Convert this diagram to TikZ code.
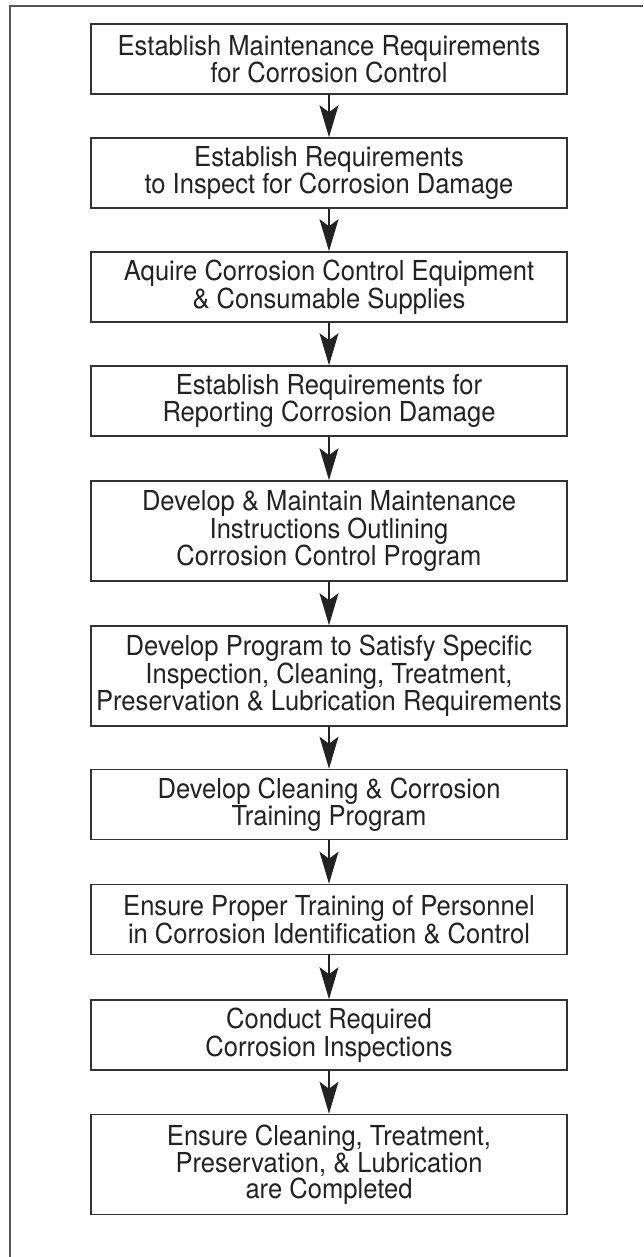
\documentclass[tikz,border=0pt]{standalone}
\usepackage{fontspec}
\setmainfont[FakeStretch=0.93]{TeX Gyre Heros}
\usetikzlibrary{arrows.meta}
\definecolor{ink}{HTML}{222222}
\definecolor{boxline}{HTML}{333333}
\definecolor{frameline}{HTML}{555555}
\begin{document}
\begin{tikzpicture}[x=1pt,y=-1pt,
  stepbox/.style={draw=boxline,line width=1.6pt,text=ink,align=center,
    minimum width=476pt,inner sep=0pt,
    font=\fontsize{27.5}{26}\selectfont},
  twoline/.style={stepbox,minimum height=70pt},
  threeline/.style={stepbox,minimum height=100pt},
  flow/.style={draw=ink,line width=1.1pt,
    -{Stealth[length=32pt,width=19pt,inset=7pt]}}]
\useasboundingbox (0,0) rectangle (643,1257);
% outer frame: top and left rules only
\draw[frameline,line width=2.2pt] (643,6) -- (10,6) -- (10,1257);
% process steps
\node[twoline]   (s1)  at (329,59)    {Establish Maintenance Requirements\\for Corrosion Control};
\node[twoline]   (s2)  at (329,173)   {Establish Requirements\\to Inspect for Corrosion Damage};
\node[twoline]   (s3)  at (329,287)   {Aquire Corrosion Control Equipment\\\& Consumable Supplies};
\node[twoline]   (s4)  at (329,401)   {Establish Requirements for\\Reporting Corrosion Damage};
\node[threeline] (s5)  at (329,531)   {Develop \& Maintain Maintenance\\Instructions Outlining\\Corrosion Control Program};
\node[threeline] (s6)  at (329,676)   {Develop Program to Satisfy Specific\\Inspection, Cleaning, Treatment,\\Preservation \& Lubrication Requirements};
\node[twoline]   (s7)  at (329,804.5) {Develop Cleaning \& Corrosion\\Training Program};
\node[twoline]   (s8)  at (329,919.5) {Ensure Proper Training of Personnel\\in Corrosion Identification \& Control};
\node[twoline]   (s9)  at (329,1035)  {Conduct Required\\Corrosion Inspections};
\node[threeline] (s10) at (329,1164.5){Ensure Cleaning, Treatment,\\Preservation, \& Lubrication\\are Completed};
% connectors
\foreach \a/\b in {s1/s2,s2/s3,s3/s4,s4/s5,s5/s6,s6/s7,s7/s8,s8/s9,s9/s10}
  \draw[flow] (\a.south) -- (\b.north);
\end{tikzpicture}
\end{document}
